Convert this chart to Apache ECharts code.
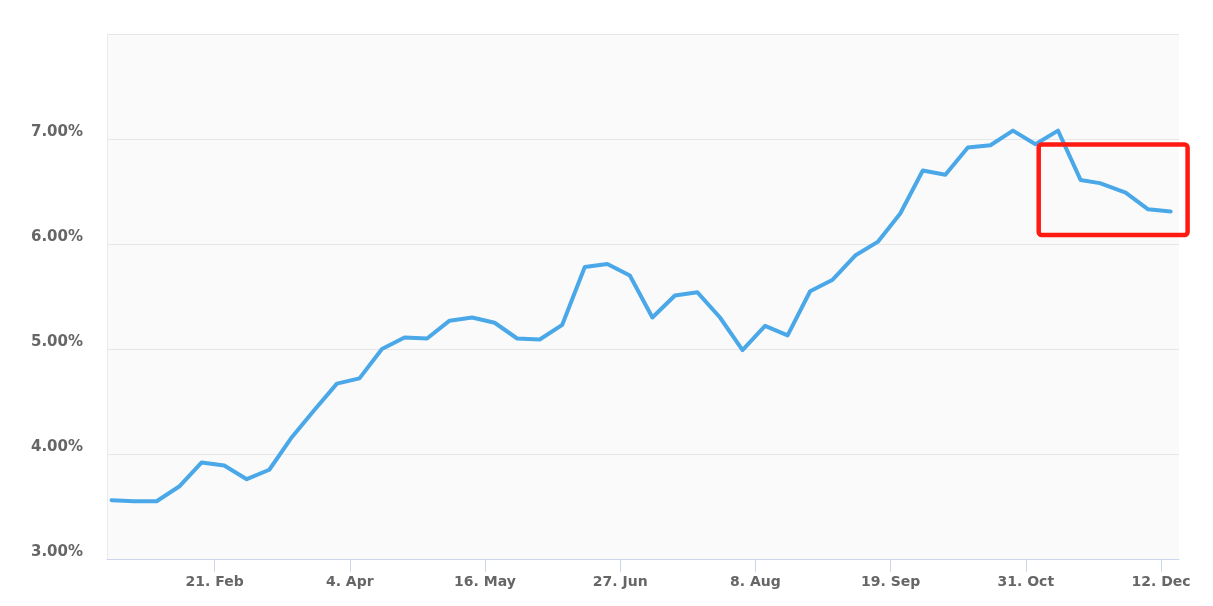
<!DOCTYPE html>
<html>
<head>
<meta charset="utf-8">
<script src="https://cdn.jsdelivr.net/npm/echarts@6/dist/echarts.min.js"></script>
<style>
  html, body { margin: 0; padding: 0; background: #ffffff; }
  #chart { width: 1213px; height: 606px; }
</style>
</head>
<body>
<div id="chart"></div>
<script>
// ---- data ----
const dates = [
  '2022-01-20','2022-01-27','2022-02-03','2022-02-10','2022-02-17','2022-02-24',
  '2022-03-03','2022-03-10','2022-03-17','2022-03-24','2022-03-31','2022-04-07',
  '2022-04-14','2022-04-21','2022-04-28','2022-05-05','2022-05-12','2022-05-19',
  '2022-05-26','2022-06-02','2022-06-09','2022-06-16','2022-06-23','2022-06-30',
  '2022-07-07','2022-07-14','2022-07-21','2022-07-28','2022-08-04','2022-08-11',
  '2022-08-18','2022-08-25','2022-09-01','2022-09-08','2022-09-15','2022-09-22',
  '2022-09-29','2022-10-06','2022-10-13','2022-10-20','2022-10-27','2022-11-03',
  '2022-11-10','2022-11-17','2022-11-23','2022-12-01','2022-12-08','2022-12-15'
];
const rates = [
  3.56, 3.55, 3.55, 3.69, 3.92, 3.89,
  3.76, 3.85, 4.16, 4.42, 4.67, 4.72,
  5.00, 5.11, 5.10, 5.27, 5.30, 5.25,
  5.10, 5.09, 5.23, 5.78, 5.81, 5.70,
  5.30, 5.51, 5.54, 5.30, 4.99, 5.22,
  5.13, 5.55, 5.66, 5.89, 6.02, 6.29,
  6.70, 6.66, 6.92, 6.94, 7.08, 6.95,
  7.08, 6.61, 6.58, 6.49, 6.33, 6.31
];
const xTickDates = ['2022-02-21','2022-04-04','2022-05-16','2022-06-27','2022-08-08','2022-09-19','2022-10-31','2022-12-12'];
const xTickLabels = ['21. Feb','4. Apr','16. May','27. Jun','8. Aug','19. Sep','31. Oct','12. Dec'];
const xRange = ['2022-01-18T14:00', '2022-12-17T14:00'];
const yRange = [3, 8];
const yHiddenLabels = [8];
// highlighted region (data space)
const highlightFrom = '2022-11-04T00:00';
const highlightTo = '2022-12-20T06:00';
const highlightLow = 6.085;
const highlightHigh = 6.948;

// ---- helpers ----
function ts(s) { return new Date(s.length === 10 ? s + 'T00:00' : s).getTime(); }
const labelMap = {};
xTickDates.forEach((d, i) => { labelMap[ts(d)] = xTickLabels[i]; });

const chart = echarts.init(document.getElementById('chart'), null, { renderer: 'canvas' });
const FONT = '"DejaVu Sans", "Open Sans", sans-serif';

chart.setOption({
  animation: false,
  backgroundColor: '#ffffff',
  grid: {
    left: 107, right: 34, top: 34, bottom: 47,
    show: true, backgroundColor: '#fafafa', borderWidth: 0
  },
  xAxis: {
    type: 'value',
    min: ts(xRange[0]),
    max: ts(xRange[1]),
    scale: true,
    axisLine: { show: true, lineStyle: { color: '#ccd6eb', width: 1 } },
    axisTick: {
      show: true, length: 13, customValues: xTickDates.map(ts),
      lineStyle: { color: '#ccd6eb', width: 1 }
    },
    axisLabel: {
      customValues: xTickDates.map(ts),
      formatter: v => labelMap[v] || '',
      color: '#666666', fontFamily: FONT, fontWeight: 'bold', fontSize: 14,
      margin: 16, hideOverlap: false
    },
    splitLine: { show: false }
  },
  yAxis: {
    type: 'value',
    min: yRange[0], max: yRange[1], interval: 1,
    axisLine: { show: true, lineStyle: { color: '#ebebeb', width: 1 } },
    axisTick: { show: false },
    axisLabel: {
      formatter: v => yHiddenLabels.includes(v) ? '' : v.toFixed(2) + '%\n',
      color: '#666666', fontFamily: FONT, fontWeight: 'bold', fontSize: 15,
      lineHeight: 14, margin: 24, verticalAlign: 'middle'
    },
    splitLine: { show: true, lineStyle: { color: '#e6e6e6', width: 1 } }
  },
  series: [{
    type: 'line',
    data: dates.map((d, i) => [ts(d), rates[i]]),
    showSymbol: false,
    symbol: 'none',
    lineStyle: { color: '#4aa8e8', width: 4, join: 'round', cap: 'round' },
    clip: false
  }]
});

// red highlight box positioned through the axes' scales
const p1 = chart.convertToPixel({ gridIndex: 0 }, [ts(highlightFrom), highlightHigh]);
const p2 = chart.convertToPixel({ gridIndex: 0 }, [ts(highlightTo), highlightLow]);
chart.setOption({
  graphic: [{
    type: 'rect',
    shape: { x: p1[0], y: p1[1], width: p2[0] - p1[0], height: p2[1] - p1[1], r: 3 },
    style: { fill: 'none', stroke: '#ff1a12', lineWidth: 4.5 },
    z: 100
  }]
});
</script>
</body>
</html>
